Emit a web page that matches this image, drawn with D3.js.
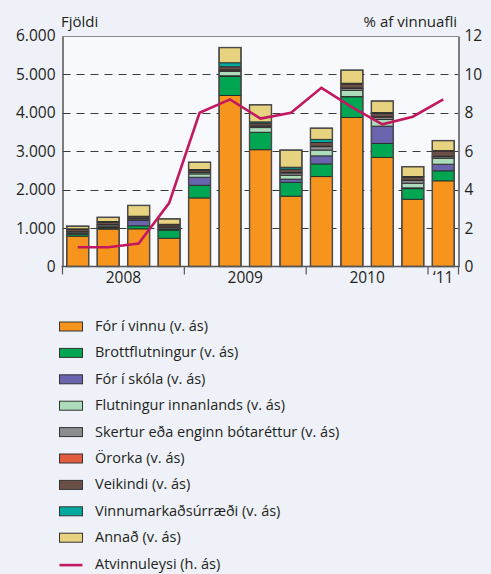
<!DOCTYPE html>
<html>
<head>
<meta charset="utf-8">
<script src="https://cdn.jsdelivr.net/npm/d3@7"></script>
<style>
  html, body { margin: 0; padding: 0; background: #eef1f8; }
  svg { display: block; }
  text { font-family: "Open Sans", "Lato", sans-serif; fill: #231f20; }
</style>
</head>
<body>
<svg id="chart" width="491" height="574"></svg>
<script>
// Quarters 2008 Q1 – 2011 Q1
const quarters = ["2008Q1","2008Q2","2008Q3","2008Q4","2009Q1","2009Q2","2009Q3","2009Q4","2010Q1","2010Q2","2010Q3","2010Q4","2011Q1"];

// Number of people leaving the unemployment register, by reason (left axis)
const forIVinnu       = [790, 975, 980, 735, 1784, 4450, 3040, 1830, 2340, 3880, 2840, 1750, 2230];
const brottflutningur = [ 50,  30,  80, 215,  330,  495,  450,  360,  330,  537,  364,  277,  260];
const forISkola       = [  0,  10, 140,   5,  210,   20,    5,   85,  210,   10,  450,   20,  173];
const flutningur      = [ 15,  20,  15,  25,   85,  115,  120,  100,  150,  160,  173,  121,  156];
const skertur         = [ 45,  50,  40,  45,   40,   30,   40,   60,   90,   50,   60,   70,   40];
const ororka          = [  5,   5,   5,   5,    5,   10,    5,   10,   10,   10,   10,   10,   10];
const veikindi        = [ 70,  60,  40,  55,   50,   80,   70,   90,  100,  104,   90,   80,  138];
const vinnumarkadur   = [  5,  20,  10,  15,   20,  104,   35,   50,   80,   20,   20,   15,   10];
const annad           = [ 70, 110, 280, 140,  190,  395,  445,  445,  290,  340,  300,  255,  260];

// Unemployment rate, % of labour force (right axis)
const atvinnuleysi = [1.0, 1.0, 1.2, 3.3, 8.0, 8.7, 7.7, 8.0, 9.3, 8.3, 7.4, 7.8, 8.7];

const leftTicks  = [0, 1000, 2000, 3000, 4000, 5000, 6000];
const rightTicks = [0, 2, 4, 6, 8, 10, 12];
const yearLabels = [
  { label: "2008", from: 0, to: 3 },
  { label: "2009", from: 4, to: 7 },
  { label: "2010", from: 8, to: 11 },
  { label: "\u201811", from: 12, to: 12 }
];

const series = [
  { name: "Fór í vinnu (v. ás)",                  values: forIVinnu,       color: "#f7941d" },
  { name: "Brottflutningur (v. ás)",              values: brottflutningur, color: "#00a651" },
  { name: "Fór í skóla (v. ás)",                  values: forISkola,       color: "#6a63ad" },
  { name: "Flutningur innanlands (v. ás)",        values: flutningur,      color: "#acdcba" },
  { name: "Skertur eða enginn bótaréttur (v. ás)", values: skertur,        color: "#8a8d8f" },
  { name: "Örorka (v. ás)",                       values: ororka,          color: "#e35b3e" },
  { name: "Veikindi (v. ás)",                     values: veikindi,        color: "#6b4f47" },
  { name: "Vinnumarkaðsúrræði (v. ás)",           values: vinnumarkadur,   color: "#00a89d" },
  { name: "Annað (v. ás)",                        values: annad,           color: "#e7d27f" }
];
const lineName = "Atvinnuleysi (h. ás)";
const lineColor = "#c2185f";

const svg = d3.select("#chart");
const W = 491;
const plot = { left: 62.5, right: 458.5, top: 36, bottom: 266.5 };

svg.append("rect").attr("width", W).attr("height", 574).attr("fill", "#eef1f8");
svg.append("rect")
  .attr("x", plot.left).attr("y", plot.top)
  .attr("width", plot.right - plot.left).attr("height", plot.bottom - plot.top)
  .attr("fill", "#f8f9fd");

const x = d3.scaleBand().domain(quarters).range([plot.left, plot.right])
  .paddingInner(0.28).paddingOuter(0.14);
const y = d3.scaleLinear().domain([0, 6000]).range([plot.bottom, plot.top]);
const yR = d3.scaleLinear().domain([0, 12]).range([plot.bottom, plot.top]);

// dashed gridlines
svg.append("g").selectAll("line")
  .data(leftTicks.filter(t => t > 0 && t < 6000))
  .join("line")
  .attr("x1", plot.left).attr("x2", plot.right)
  .attr("y1", d => Math.round(y(d)) + 0.5).attr("y2", d => Math.round(y(d)) + 0.5)
  .attr("stroke", "#3a3a3a").attr("stroke-width", 1.2)
  .attr("stroke-dasharray", "8,6");

// stacked bars
const rows = quarters.map((q, i) => {
  const r = { q };
  series.forEach((s, k) => { r["s" + k] = s.values[i]; });
  return r;
});
const stack = d3.stack().keys(series.map((s, k) => "s" + k));
const stacked = stack(rows);

svg.append("g").selectAll("g")
  .data(stacked)
  .join("g")
  .attr("fill", (d, k) => series[k].color)
  .selectAll("rect")
  .data(d => d)
  .join("rect")
  .attr("x", d => x(d.data.q))
  .attr("width", x.bandwidth())
  .attr("y", d => y(d[1]))
  .attr("height", d => Math.max(0, y(d[0]) - y(d[1])))
  .attr("stroke", "#2a2a2a")
  .attr("stroke-width", 0.9);

// outer outline of each bar
const total = d => d3.sum(series, (s, k) => d["s" + k]);
svg.append("g").selectAll("rect")
  .data(rows)
  .join("rect")
  .attr("x", d => x(d.q))
  .attr("width", x.bandwidth())
  .attr("y", d => y(total(d)))
  .attr("height", d => plot.bottom - y(total(d)))
  .attr("fill", "none")
  .attr("stroke", "#4a4a4a")
  .attr("stroke-width", 1.4);

// unemployment line
const line = d3.line()
  .x((d, i) => x(quarters[i]) + x.bandwidth() / 2)
  .y(d => yR(d));
svg.append("path")
  .datum(atvinnuleysi)
  .attr("d", line)
  .attr("fill", "none")
  .attr("stroke", lineColor)
  .attr("stroke-width", 2.6)
  .attr("stroke-linejoin", "miter");

// frame and axes
svg.append("line")
  .attr("x1", plot.left).attr("x2", plot.right)
  .attr("y1", plot.top + 0.5).attr("y2", plot.top + 0.5)
  .attr("stroke", "#8a8a8a").attr("stroke-width", 1);

const fontStack = "'Open Sans', Lato, sans-serif";
const leftAxis = d3.axisLeft(y).tickValues(leftTicks).tickSize(0).tickPadding(7)
  .tickFormat(d => d3.format(",")(d).replace(/,/g, "."));
const gL = svg.append("g").attr("transform", `translate(${plot.left},0)`).call(leftAxis);
gL.select(".domain").attr("stroke", "#555").attr("stroke-width", 1.5);
gL.selectAll("text").attr("font-size", 15.5).attr("fill", "#231f20")
  .style("font-family", fontStack);

const rightAxis = d3.axisRight(yR).tickValues(rightTicks).tickSize(0).tickPadding(6);
const gR = svg.append("g").attr("transform", `translate(${plot.right},0)`).call(rightAxis);
gR.select(".domain").attr("stroke", "#555").attr("stroke-width", 1.5);
gR.selectAll("text").attr("font-size", 15.5).attr("fill", "#231f20")
  .style("font-family", fontStack);

// bottom axis with year separators
svg.append("line")
  .attr("x1", plot.left - 1).attr("x2", plot.right + 1)
  .attr("y1", plot.bottom).attr("y2", plot.bottom)
  .attr("stroke", "#555").attr("stroke-width", 1.5);

const gap = x.step() * x.paddingInner() / 2;
const separators = [plot.left, x(quarters[4]) - gap, x(quarters[8]) - gap, x(quarters[12]) - gap, plot.right];
svg.append("g").selectAll("line")
  .data(separators)
  .join("line")
  .attr("x1", d => d).attr("x2", d => d)
  .attr("y1", plot.bottom).attr("y2", plot.bottom + 8)
  .attr("stroke", "#555").attr("stroke-width", 1.2);

svg.append("g").selectAll("text")
  .data(yearLabels)
  .join("text")
  .attr("x", d => (x(quarters[d.from]) + x(quarters[d.to]) + x.bandwidth()) / 2)
  .attr("y", 283)
  .attr("text-anchor", "middle")
  .attr("font-size", 15.5)
  .text(d => d.label);

// axis titles
svg.append("text").attr("x", 61).attr("y", 27).attr("font-size", 15).text("Fjöldi");
svg.append("text").attr("x", 457).attr("y", 27).attr("text-anchor", "end")
  .attr("font-size", 15).text("% af vinnuafli");

// legend
const legendTop = 326, legendStep = 26.4;
const lg = svg.append("g");
series.forEach((s, k) => {
  const cy = legendTop + k * legendStep;
  lg.append("rect")
    .attr("x", 59.5).attr("y", cy - 4)
    .attr("width", 23).attr("height", 9)
    .attr("fill", s.color).attr("stroke", "#333").attr("stroke-width", 1);
  lg.append("text").attr("x", 95).attr("y", cy)
    .attr("dy", "0.35em").attr("font-size", 14.5).text(s.name);
});
{
  const cy = legendTop + series.length * legendStep;
  lg.append("line")
    .attr("x1", 59.5).attr("x2", 82.5).attr("y1", cy + 1.5).attr("y2", cy + 1.5)
    .attr("stroke", lineColor).attr("stroke-width", 2.6);
  lg.append("text").attr("x", 95).attr("y", cy)
    .attr("dy", "0.35em").attr("font-size", 14.5).text(lineName);
}
</script>
</body>
</html>
